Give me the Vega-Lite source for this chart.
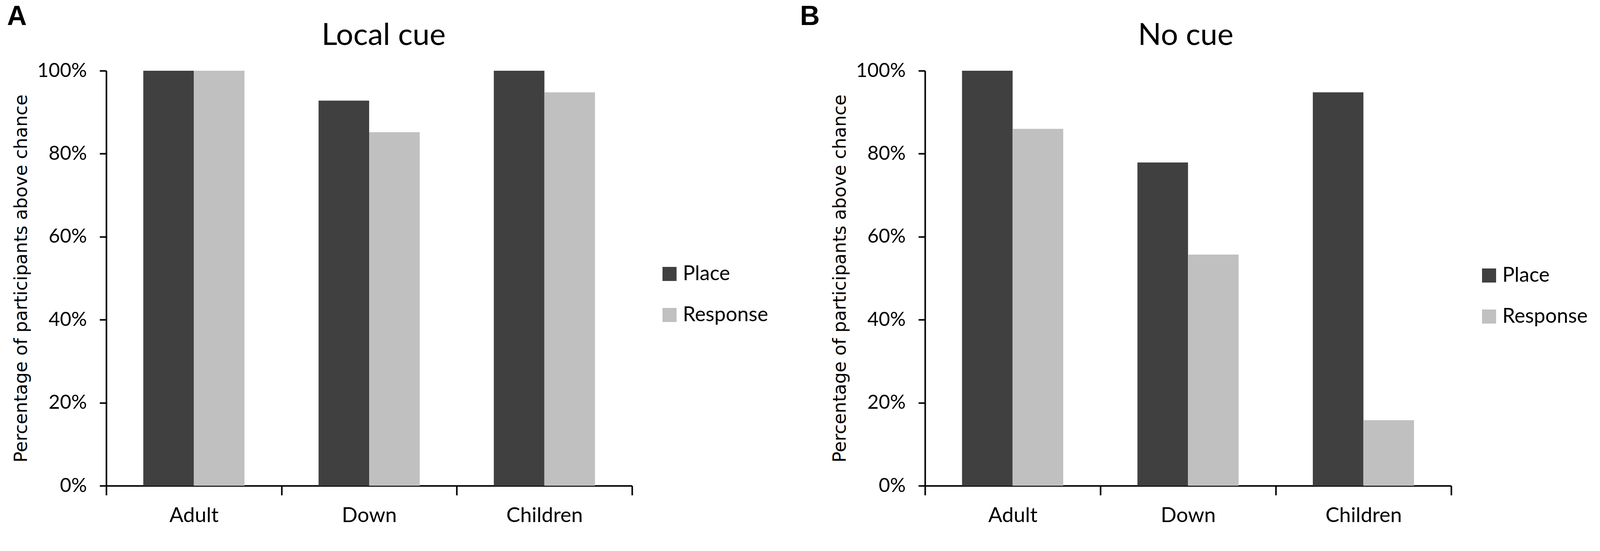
{
  "$schema": "https://vega.github.io/schema/vega-lite/v6.json",
  "background": "white",
  "padding": {"left": 18, "top": 8, "right": 0, "bottom": 30},
  "datasets": {
    "d": [
      {"panel": "A", "group": "Adult", "type": "Place", "value": 1.0},
      {"panel": "A", "group": "Adult", "type": "Response", "value": 1.0},
      {"panel": "A", "group": "Down", "type": "Place", "value": 0.928},
      {"panel": "A", "group": "Down", "type": "Response", "value": 0.852},
      {"panel": "A", "group": "Children", "type": "Place", "value": 1.0},
      {"panel": "A", "group": "Children", "type": "Response", "value": 0.948},
      {"panel": "B", "group": "Adult", "type": "Place", "value": 1.0},
      {"panel": "B", "group": "Adult", "type": "Response", "value": 0.86},
      {"panel": "B", "group": "Down", "type": "Place", "value": 0.779},
      {"panel": "B", "group": "Down", "type": "Response", "value": 0.557},
      {"panel": "B", "group": "Children", "type": "Place", "value": 0.948},
      {"panel": "B", "group": "Children", "type": "Response", "value": 0.158}
    ]
  },
  "spacing": 81,
  "hconcat": [
    {
      "title": {"text": "A", "anchor": "start", "frame": "group", "font": "Liberation Sans", "fontWeight": "bold", "fontSize": 70, "color": "black", "dx": -254, "offset": -26},
      "vconcat": [
        {
          "data": {"name": "d"},
          "transform": [{"filter": "datum.panel == 'A'"}],
          "title": {"text": "Local cue", "frame": "group", "anchor": "middle", "fontSize": 78, "font": "Lato", "fontWeight": "normal", "color": "black", "offset": 25, "dx": 37},
          "width": 1346,
          "height": 1062,
          "mark": {"type": "bar"},
          "encoding": {
            "x": {"field": "group", "type": "nominal", "sort": ["Adult", "Down", "Children"], "scale": {"paddingInner": 0, "paddingOuter": 0}, "axis": {"title": null}},
            "xOffset": {"field": "type", "type": "nominal", "sort": ["Place", "Response"], "scale": {"paddingOuter": 0.732, "paddingInner": 0}},
            "y": {"field": "value", "type": "quantitative", "scale": {"domain": [0, 1], "nice": false}, "axis": {"values": [0, 0.2, 0.4, 0.6, 0.8, 1], "format": ".0%", "title": "Percentage of participants above chance"}},
            "color": {"field": "type", "type": "nominal", "scale": {"domain": ["Place", "Response"], "range": ["#404040", "#c0c0c0"]}, "legend": {"title": null, "orient": "none", "legendX": 1416, "legendY": 494}}
          }
        }
      ]
    },
    {
      "title": {"text": "B", "anchor": "start", "frame": "group", "font": "Liberation Sans", "fontWeight": "bold", "fontSize": 70, "color": "black", "dx": -320, "offset": -26},
      "vconcat": [
        {
          "data": {"name": "d"},
          "transform": [{"filter": "datum.panel == 'B'"}],
          "title": {"text": "No cue", "frame": "group", "anchor": "middle", "fontSize": 78, "font": "Lato", "fontWeight": "normal", "color": "black", "offset": 25, "dx": -6},
          "width": 1347,
          "height": 1062,
          "mark": {"type": "bar"},
          "encoding": {
            "x": {"field": "group", "type": "nominal", "sort": ["Adult", "Down", "Children"], "scale": {"paddingInner": 0, "paddingOuter": 0}, "axis": {"title": null}},
            "xOffset": {"field": "type", "type": "nominal", "sort": ["Place", "Response"], "scale": {"paddingOuter": 0.732, "paddingInner": 0}},
            "y": {"field": "value", "type": "quantitative", "scale": {"domain": [0, 1], "nice": false}, "axis": {"values": [0, 0.2, 0.4, 0.6, 0.8, 1], "format": ".0%", "title": "Percentage of participants above chance"}},
            "color": {"field": "type", "type": "nominal", "scale": {"domain": ["Place", "Response"], "range": ["#404040", "#c0c0c0"]}, "legend": {"title": null, "orient": "none", "legendX": 1418, "legendY": 498}}
          }
        }
      ]
    }
  ],
  "resolve": {"scale": {"color": "independent"}, "legend": {"color": "independent"}},
  "config": {
    "view": {"stroke": null},
    "axis": {
      "domainColor": "black", "domainWidth": 4, "tickColor": "black", "tickWidth": 4,
      "labelFont": "Lato", "labelFontSize": 50, "labelColor": "black", "labelLimit": 0,
      "grid": false, "titleFont": "DejaVu Sans", "titleFontSize": 46, "titleFontWeight": "normal", "titleColor": "black"
    },
    "axisX": {"tickBand": "extent", "tickSize": 24, "labelPadding": 26, "labelAngle": 0, "labelFontSize": 53},
    "axisY": {"tickSize": 17, "labelPadding": 33, "titlePadding": 16},
    "legend": {
      "padding": 0, "symbolType": "square", "symbolSize": 1296, "symbolStrokeWidth": 0,
      "labelFont": "Lato", "labelFontSize": 52, "labelColor": "black", "labelLimit": 0,
      "rowPadding": 53, "labelOffset": 8
    }
  }
}
